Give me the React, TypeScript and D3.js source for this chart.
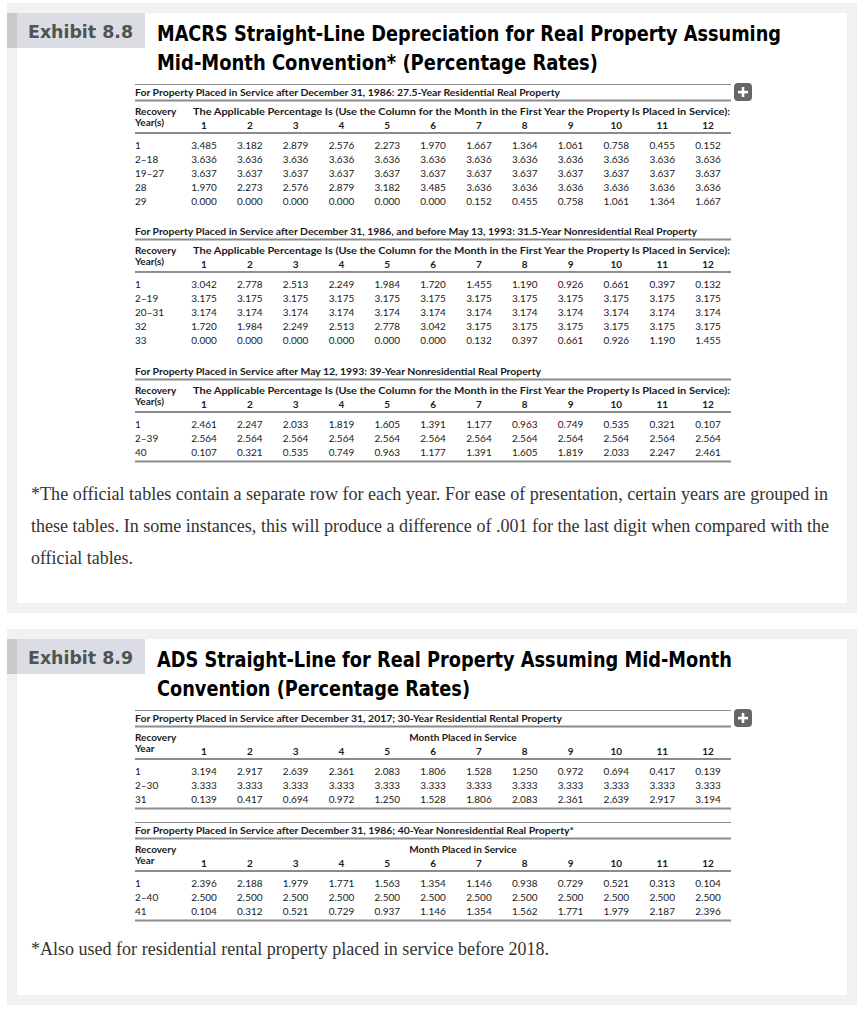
import React from "react";
import * as d3 from "d3";

const months = ["1", "2", "3", "4", "5", "6", "7", "8", "9", "10", "11", "12"];

const t1Title = "For Property Placed in Service after December 31, 1986: 27.5-Year Residential Real Property";
const t1Labels = ["1", "2–18", "19–27", "28", "29"];
const t1Values = [
  [3.485, 3.182, 2.879, 2.576, 2.273, 1.97, 1.667, 1.364, 1.061, 0.758, 0.455, 0.152],
  [3.636, 3.636, 3.636, 3.636, 3.636, 3.636, 3.636, 3.636, 3.636, 3.636, 3.636, 3.636],
  [3.637, 3.637, 3.637, 3.637, 3.637, 3.637, 3.637, 3.637, 3.637, 3.637, 3.637, 3.637],
  [1.97, 2.273, 2.576, 2.879, 3.182, 3.485, 3.636, 3.636, 3.636, 3.636, 3.636, 3.636],
  [0.0, 0.0, 0.0, 0.0, 0.0, 0.0, 0.152, 0.455, 0.758, 1.061, 1.364, 1.667],
];

const t2Title = "For Property Placed in Service after December 31, 1986, and before May 13, 1993: 31.5-Year Nonresidential Real Property";
const t2Labels = ["1", "2–19", "20–31", "32", "33"];
const t2Values = [
  [3.042, 2.778, 2.513, 2.249, 1.984, 1.72, 1.455, 1.19, 0.926, 0.661, 0.397, 0.132],
  [3.175, 3.175, 3.175, 3.175, 3.175, 3.175, 3.175, 3.175, 3.175, 3.175, 3.175, 3.175],
  [3.174, 3.174, 3.174, 3.174, 3.174, 3.174, 3.174, 3.174, 3.174, 3.174, 3.174, 3.174],
  [1.72, 1.984, 2.249, 2.513, 2.778, 3.042, 3.175, 3.175, 3.175, 3.175, 3.175, 3.175],
  [0.0, 0.0, 0.0, 0.0, 0.0, 0.0, 0.132, 0.397, 0.661, 0.926, 1.19, 1.455],
];

const t3Title = "For Property Placed in Service after May 12, 1993: 39-Year Nonresidential Real Property";
const t3Labels = ["1", "2–39", "40"];
const t3Values = [
  [2.461, 2.247, 2.033, 1.819, 1.605, 1.391, 1.177, 0.963, 0.749, 0.535, 0.321, 0.107],
  [2.564, 2.564, 2.564, 2.564, 2.564, 2.564, 2.564, 2.564, 2.564, 2.564, 2.564, 2.564],
  [0.107, 0.321, 0.535, 0.749, 0.963, 1.177, 1.391, 1.605, 1.819, 2.033, 2.247, 2.461],
];

const t4Title = "For Property Placed in Service after December 31, 2017; 30-Year Residential Rental Property";
const t4Labels = ["1", "2–30", "31"];
const t4Values = [
  [3.194, 2.917, 2.639, 2.361, 2.083, 1.806, 1.528, 1.25, 0.972, 0.694, 0.417, 0.139],
  [3.333, 3.333, 3.333, 3.333, 3.333, 3.333, 3.333, 3.333, 3.333, 3.333, 3.333, 3.333],
  [0.139, 0.417, 0.694, 0.972, 1.25, 1.528, 1.806, 2.083, 2.361, 2.639, 2.917, 3.194],
];

const t5Title = "For Property Placed in Service after December 31, 1986; 40-Year Nonresidential Real Property*";
const t5Labels = ["1", "2–40", "41"];
const t5Values = [
  [2.396, 2.188, 1.979, 1.771, 1.563, 1.354, 1.146, 0.938, 0.729, 0.521, 0.313, 0.104],
  [2.5, 2.5, 2.5, 2.5, 2.5, 2.5, 2.5, 2.5, 2.5, 2.5, 2.5, 2.5],
  [0.104, 0.312, 0.521, 0.729, 0.937, 1.146, 1.354, 1.562, 1.771, 1.979, 2.187, 2.396],
];

const applicableText = "The Applicable Percentage Is (Use the Column for the Month in the First Year the Property Is Placed in Service):";
const monthPlacedText = "Month Placed in Service";

const foot1 = [
  "*The official tables contain a separate row for each year. For ease of presentation, certain years are grouped in",
  "these tables. In some instances, this will produce a difference of .001 for the last digit when compared with the",
  "official tables.",
];
const foot1Widths = [797, 798, 102];
const foot2 = "*Also used for residential rental property placed in service before 2018.";

const fmt = d3.format(".3f");
const TFONT = "Lato, 'Open Sans', sans-serif";
const TITLEFONT = "'DejaVu Sans Condensed', 'DejaVu Sans', sans-serif";
const SERIF = "'Liberation Serif', 'Times New Roman', serif";
const LINE = "#8c8c8c";

const TL = 135;
const TR = 731;
const colX = d3.scalePoint<string>().domain(months).range([204, 708]);

type TableProps = {
  h: number;
  title: string;
  titleW: number;
  labels: string[];
  values: number[][];
  kind: "applicable" | "month";
  topLine?: boolean;
  bottomLine?: boolean;
  plus?: boolean;
};

function Plus({ x, y }: { x: number; y: number }) {
  return (
    <g>
      <rect x={x} y={y} width={18} height={18} rx={4} fill="#666" />
      <rect x={x + 4} y={y + 7.8} width={10} height={2.6} fill="#fff" />
      <rect x={x + 7.7} y={y + 4} width={2.6} height={10} fill="#fff" />
    </g>
  );
}

function Table({ h, title, titleW, labels, values, kind, topLine, bottomLine, plus }: TableProps) {
  const n = labels.length;
  const rowY = d3.scalePoint<string>().domain(labels).range([h + 53, h + 53 + 14 * (n - 1)]);
  const lastRow = rowY(labels[n - 1]) as number;
  const isMonth = kind === "month";
  return (
    <g fontFamily={TFONT} fill="#1a1a1a">
      {topLine && <line x1={TL} x2={TR} y1={h - 7.5} y2={h - 7.5} stroke={LINE} strokeWidth={1.2} />}
      {plus && <Plus x={TR + 3} y={h - 9} />}
      <text x={TL} y={h + 3.5} fontSize={10} fontWeight={700} textLength={titleW} lengthAdjust="spacingAndGlyphs">
        {title}
      </text>
      <line x1={TL} x2={TR} y1={h + 8.5} y2={h + 8.5} stroke={LINE} strokeWidth={2} />
      <text x={TL} y={h + 22.5} fontSize={10} fontWeight={700}>Recovery</text>
      <text x={TL} y={h + 33.5} fontSize={10} fontWeight={700}>{isMonth ? "Year" : "Year(s)"}</text>
      {isMonth ? (
        <text x={463} y={h + 22.5} fontSize={10} fontWeight={700} textAnchor="middle">{monthPlacedText}</text>
      ) : (
        <text x={193} y={h + 22.5} fontSize={10} fontWeight={700} textLength={537} lengthAdjust="spacingAndGlyphs">
          {applicableText}
        </text>
      )}
      {months.map((m) => (
        <text key={m} x={colX(m)} y={h + 37} fontSize={10} fontWeight={700} textAnchor="middle">{m}</text>
      ))}
      <line x1={TL} x2={TR} y1={h + 41} y2={h + 41} stroke={LINE} strokeWidth={2} />
      {labels.map((lab, i) => (
        <g key={lab}>
          <text x={TL} y={(rowY(lab) as number) + 3.5} fontSize={10}>{lab}</text>
          {values[i].map((v, j) => (
            <text key={j} x={colX(months[j])} y={(rowY(lab) as number) + 3.5} fontSize={10} textAnchor="middle">
              {fmt(v)}
            </text>
          ))}
        </g>
      ))}
      {bottomLine && (
        <line x1={TL} x2={TR} y1={lastRow + 9.5} y2={lastRow + 9.5} stroke={LINE} strokeWidth={2} />
      )}
    </g>
  );
}

function Header({ y, label, lines }: { y: number; label: string; lines: { text: string; w: number }[] }) {
  return (
    <g>
      <rect x={7} y={y} width={138} height={35} fill="#dcdce4" />
      <rect x={7} y={y} width={10} height={35} fill="#c9c9cc" />
      <text x={28} y={y + 25} fontFamily="'DejaVu Sans', Verdana, sans-serif" fontWeight={700} fontSize={18.5}
        fill="#4b5552" textLength={105} lengthAdjust="spacingAndGlyphs">{label}</text>
      {lines.map((l, i) => (
        <text key={i} x={157} y={y + 28 + i * 29} fontFamily={TITLEFONT} fontWeight={700} fontSize={22}
          fill="#000" textLength={l.w} lengthAdjust="spacingAndGlyphs">{l.text}</text>
      ))}
    </g>
  );
}

export default function App() {
  return (
    <svg width={864} height={1022} style={{ position: "absolute", left: 0, top: 0, background: "#fff" }}>
      {/* Panel 1 */}
      <rect x={7} y={3} width={850} height={610} fill="#f1f1f1" />
      <rect x={17} y={13} width={830} height={590} fill="#fff" />
      <Header y={13} label="Exhibit 8.8" lines={[
        { text: "MACRS Straight-Line Depreciation for Real Property Assuming", w: 624 },
        { text: "Mid-Month Convention* (Percentage Rates)", w: 441 },
      ]} />
      <Table h={92} title={t1Title} titleW={425} labels={t1Labels} values={t1Values} kind="applicable" topLine plus />
      <Table h={231} title={t2Title} titleW={562} labels={t2Labels} values={t2Values} kind="applicable" />
      <Table h={371} title={t3Title} titleW={406} labels={t3Labels} values={t3Values} kind="applicable" bottomLine />
      {foot1.map((t, i) => (
        <text key={i} x={31} y={500 + i * 32} fontFamily={SERIF} fontSize={18}
          fill="#333" textLength={foot1Widths[i]} lengthAdjust="spacingAndGlyphs">{t}</text>
      ))}

      {/* Panel 2 */}
      <rect x={7} y={629} width={850} height={376} fill="#f1f1f1" />
      <rect x={17} y={639} width={830} height={356} fill="#fff" />
      <Header y={639} label="Exhibit 8.9" lines={[
        { text: "ADS Straight-Line for Real Property Assuming Mid-Month", w: 575 },
        { text: "Convention (Percentage Rates)", w: 313 },
      ]} />
      <Table h={718} title={t4Title} titleW={427} labels={t4Labels} values={t4Values} kind="month" topLine plus bottomLine />
      <Table h={830} title={t5Title} titleW={439} labels={t5Labels} values={t5Values} kind="month" topLine bottomLine />
      <text x={31} y={955} fontFamily={SERIF} fontSize={18} fill="#333"
        textLength={518} lengthAdjust="spacingAndGlyphs">{foot2}</text>
    </svg>
  );
}
